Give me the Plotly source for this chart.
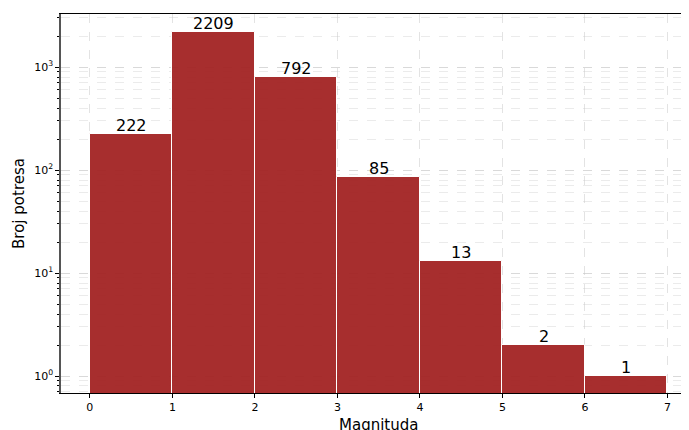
import math
import plotly.graph_objects as go

bin_edges = [0, 1, 2, 3, 4, 5, 6, 7]
counts = [222, 2209, 792, 85, 13, 2, 1]
x_ticks = [0, 1, 2, 3, 4, 5, 6, 7]
y_tickvals = [1, 10, 100, 1000]
y_ticktext = ["10<sup>0</sup>", "10<sup>1</sup>", "10<sup>2</sup>", "10<sup>3</sup>"]
x_title = "Magnituda"
y_title = "Broj potresa"

centers = [(a + b) / 2 for a, b in zip(bin_edges[:-1], bin_edges[1:])]
widths = [b - a for a, b in zip(bin_edges[:-1], bin_edges[1:])]

fig = go.Figure()
fig.add_trace(go.Bar(
    x=centers, y=counts, width=widths,
    marker=dict(color="rgba(160,30,30,0.93)", line=dict(color="white", width=1)),
))

for cx, c in zip(centers, counts):
    fig.add_annotation(
        x=cx, y=math.log10(c), text=str(c), showarrow=False,
        xanchor="center", yanchor="bottom", yshift=-3,
        font=dict(family="DejaVu Sans", size=16, color="black"),
    )

# x-axis title placed just under the tick labels
fig.add_annotation(
    x=(bin_edges[0] + bin_edges[-1]) / 2, xref="x", y=0, yref="paper",
    text=x_title, showarrow=False, xanchor="center", yanchor="top", yshift=-21,
    font=dict(family="DejaVu Sans", size=15, color="black"),
)

grid_color = "rgba(200,200,200,0.5)"
fig.update_layout(
    width=681, height=422,
    margin=dict(l=53, r=1, t=6, b=37),
    plot_bgcolor="white", paper_bgcolor="white",
    font=dict(family="DejaVu Sans", size=11, color="black"),
    showlegend=False,
    bargap=0,
    xaxis=dict(
        range=[-0.35, 7.25], tickvals=x_ticks, ticks="outside", ticklen=4,
        tickcolor="black", showline=True, linecolor="black", linewidth=1, mirror=True,
        showgrid=True, gridcolor=grid_color, griddash="dash", zeroline=False,
        automargin=False,
    ),
    yaxis=dict(
        type="log", range=[-0.165, 3.515],
        tickvals=y_tickvals, ticktext=y_ticktext,
        ticks="outside", ticklen=4, tickcolor="black",
        showline=True, linecolor="#555", linewidth=1.5,
        showgrid=True, gridcolor=grid_color, griddash="dash", zeroline=False,
        automargin=False,
        minor=dict(ticks="outside", ticklen=2, tickcolor="black", dtick="D1",
                   showgrid=True, gridcolor="rgba(210,210,210,0.45)", griddash="dash"),
        title=dict(text=y_title, font=dict(size=15), standoff=6),
    ),
)
fig.write_html("out.html")
